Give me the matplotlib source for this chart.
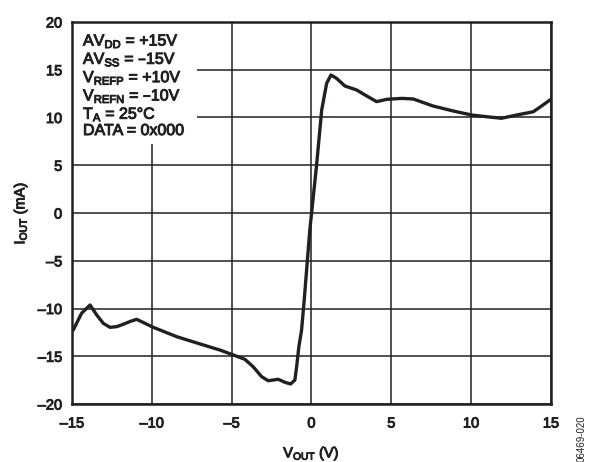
import matplotlib
matplotlib.use("Agg")
import matplotlib.pyplot as plt
import matplotlib.patheffects as pe
from matplotlib.patches import Rectangle

plt.rcParams["font.family"] = ["Liberation Sans", "DejaVu Sans"]
plt.rcParams["mathtext.default"] = "regular"

# 곡선 데이터
v_out = [-14.92, -14.4, -13.87, -13.45, -13.04, -12.62, -12.2, -11.79, -11.35, -10.95,
         -10.43, -9.91, -8.44, -7.0, -5.73, -5.0, -4.17, -3.65, -3.12, -2.71,
         -2.08, -1.66, -1.31, -1.04, -0.93, -0.79, -0.62, -0.45, -0.1, 0.32,
         0.64, 0.95, 1.22, 1.57, 2.09, 2.83, 3.35, 4.08, 4.7, 5.64,
         6.37, 7.62, 8.88, 10.03, 10.97, 11.9, 12.85, 13.89, 14.41, 14.95]
i_out = [-12.25, -10.5, -9.63, -10.68, -11.55, -11.97, -11.9, -11.65, -11.35, -11.13,
         -11.55, -11.97, -12.95, -13.7, -14.35, -14.8, -15.32, -16.1, -17.14, -17.56,
         -17.41, -17.73, -17.9, -17.49, -16.1, -14.0, -12.25, -9.0, -1.7, 5.03,
         10.79, 13.58, 14.45, 14.1, 13.3, 12.88, 12.36, 11.66, 11.9, 12.0,
         11.94, 11.2, 10.68, 10.26, 10.08, 9.92, 10.26, 10.6, 11.2, 11.85]

x_ticks = [-15, -10, -5, 0, 5, 10, 15]
y_ticks = [-20, -15, -10, -5, 0, 5, 10, 15, 20]
x_labels = ["–15", "–10", "–5", "0", "5", "10", "15"]
y_labels = ["–20", "–15", "–10", "–5", "0", "5", "10", "15", "20"]

conditions = [
    r"$AV_{DD}$ = +15V",
    r"$AV_{SS}$ = –15V",
    r"$V_{REFP}$ = +10V",
    r"$V_{REFN}$ = –10V",
    r"$T_A$ = 25°C",
    "DATA = 0x000",
]

ink = "#231f20"
thick = [pe.withStroke(linewidth=0.7, foreground=ink)]

fig = plt.figure(figsize=(5.92, 4.62), dpi=100)
ax = fig.add_axes([0.1216, 0.1255, 0.8091, 0.8269])

ax.plot(v_out, i_out, color=ink, linewidth=2.4, solid_joinstyle="round",
        solid_capstyle="round", zorder=3)

ax.set_xlim(-15, 15)
ax.set_ylim(-20, 20)
ax.set_xticks(x_ticks)
ax.set_yticks(y_ticks)
ax.set_xticklabels(x_labels)
ax.set_yticklabels(y_labels)
ax.tick_params(length=0, labelsize=10.5, colors=ink)
ax.tick_params(axis="x", pad=9)
ax.tick_params(axis="y", pad=7)
ax.set_axisbelow(True)
ax.grid(True, color=ink, linewidth=1.1)
for s in ax.spines.values():
    s.set_linewidth(1.8)
    s.set_color(ink)

# 조건 박스 (격자 가리기)
ax.add_patch(Rectangle((-15, 7.2), 7.83, 12.8, facecolor="white",
                       edgecolor="none", zorder=1))
for k, line in enumerate(conditions):
    ax.text(0.023, 0.975 - k * 0.0479, line, transform=ax.transAxes,
            fontsize=11.5, color=ink, va="top", ha="left", zorder=4,
            path_effects=thick)

ax.set_xlabel(r"$V_{OUT}$ (V)", fontsize=10.5, color=ink, labelpad=10)
ax.set_ylabel(r"$I_{OUT}$ (mA)", fontsize=10.5, color=ink, labelpad=6)

for t in ax.get_xticklabels() + ax.get_yticklabels():
    t.set_path_effects(thick)
ax.xaxis.label.set_path_effects(thick)
ax.yaxis.label.set_path_effects(thick)

fig.text(0.982, 0.102, "06469-020", rotation=90, fontsize=7, color=ink,
         ha="center", va="top")

fig.savefig("out.png", dpi=100)
